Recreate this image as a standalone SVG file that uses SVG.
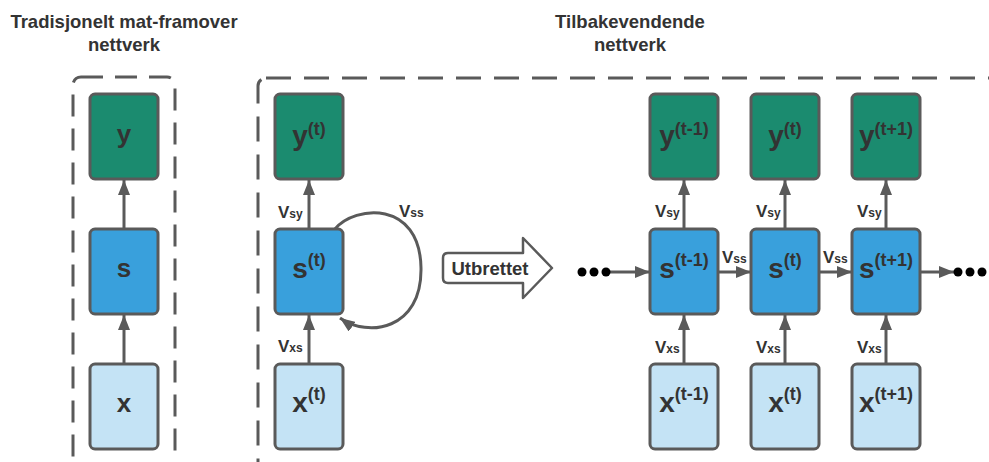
<svg xmlns="http://www.w3.org/2000/svg" width="989" height="462" viewBox="0 0 989 462">
<defs>
<marker id="ah" markerUnits="userSpaceOnUse" markerWidth="15" markerHeight="12" refX="15" refY="6" orient="auto">
<path d="M0,0 L15,6 L0,12 z" fill="#5a5a5a"/>
</marker>
<style>
.title{font-family:"Liberation Sans",Arial,sans-serif;font-weight:bold;font-size:18.5px;fill:#333;text-anchor:middle}
.box{stroke:#5a5a5a;stroke-width:3}
.yb{fill:#1b8b6f}
.sb{fill:#39a0dc}
.xb{fill:#c4e3f5}
.lbl{font-family:"Liberation Sans",Arial,sans-serif;font-weight:bold;fill:#333;text-anchor:middle}
.el{font-family:"Liberation Sans",Arial,sans-serif;font-weight:bold;font-size:17px;fill:#333}
.el tspan.sub{font-size:12px}
.dash{fill:none;stroke:#5a5a5a;stroke-width:3}
.conn{fill:none;stroke:#5a5a5a;stroke-width:3}
.dot{fill:#000}
</style>
</defs>
<rect width="989" height="462" fill="#fff"/>

<text class="title" x="124" y="28">Tradisjonelt mat-framover</text>
<text class="title" x="124" y="51">nettverk</text>
<text class="title" x="630" y="28">Tilbakevendende</text>
<text class="title" x="630" y="51">nettverk</text>

<rect class="dash" x="73" y="77" width="102" height="420" rx="8" stroke-dasharray="22 12"/>
<rect class="dash" x="258" y="78" width="780" height="420" rx="8" stroke-dasharray="25 13"/>

<g id="connectors">
<line class="conn" x1="124" y1="229" x2="124" y2="180" marker-end="url(#ah)"/>
<line class="conn" x1="124" y1="364" x2="124" y2="315" marker-end="url(#ah)"/>
<line class="conn" x1="309" y1="229" x2="309" y2="180" marker-end="url(#ah)"/>
<line class="conn" x1="309" y1="364" x2="309" y2="315" marker-end="url(#ah)"/>
<path class="conn" d="M335,229 C355,205 420,200 421,268 C422,330 368,338 340,318" marker-end="url(#ah)"/>
<line class="conn" x1="684" y1="229" x2="684" y2="180" marker-end="url(#ah)"/>
<line class="conn" x1="785" y1="229" x2="785" y2="180" marker-end="url(#ah)"/>
<line class="conn" x1="886" y1="229" x2="886" y2="180" marker-end="url(#ah)"/>
<line class="conn" x1="684" y1="364" x2="684" y2="315" marker-end="url(#ah)"/>
<line class="conn" x1="785" y1="364" x2="785" y2="315" marker-end="url(#ah)"/>
<line class="conn" x1="886" y1="364" x2="886" y2="315" marker-end="url(#ah)"/>
<line class="conn" x1="606" y1="272" x2="650" y2="272" marker-end="url(#ah)"/>
<line class="conn" x1="718" y1="272" x2="751" y2="272" marker-end="url(#ah)"/>
<line class="conn" x1="819" y1="272" x2="852" y2="272" marker-end="url(#ah)"/>
<line class="conn" x1="919" y1="272" x2="954" y2="272" marker-end="url(#ah)"/>
<circle class="dot" cx="582" cy="272" r="4.5"/>
<circle class="dot" cx="594" cy="272" r="4.5"/>
<circle class="dot" cx="606" cy="272" r="4.5"/>
<circle class="dot" cx="958" cy="272" r="4.5"/>
<circle class="dot" cx="970" cy="272" r="4.5"/>
<circle class="dot" cx="982" cy="272" r="4.5"/>
<text class="el" x="278" y="218">V<tspan class="sub">sy</tspan></text>
<text class="el" x="278" y="352">V<tspan class="sub">xs</tspan></text>
<text class="el" x="399" y="217">V<tspan class="sub">ss</tspan></text>
<text class="el" x="655" y="217">V<tspan class="sub">sy</tspan></text>
<text class="el" x="756" y="217">V<tspan class="sub">sy</tspan></text>
<text class="el" x="857" y="217">V<tspan class="sub">sy</tspan></text>
<text class="el" x="655" y="353">V<tspan class="sub">xs</tspan></text>
<text class="el" x="756" y="353">V<tspan class="sub">xs</tspan></text>
<text class="el" x="857" y="353">V<tspan class="sub">xs</tspan></text>
<text class="el" x="722" y="263">V<tspan class="sub">ss</tspan></text>
<text class="el" x="823" y="263">V<tspan class="sub">ss</tspan></text>
</g>

<g id="ff-y"><rect class="box yb" x="90" y="94" width="68" height="85" rx="5"/><text class="lbl" x="124" y="143" font-size="26">y</text></g>
<g id="ff-s"><rect class="box sb" x="90" y="229" width="68" height="85" rx="5"/><text class="lbl" x="124" y="277" font-size="26">s</text></g>
<g id="ff-x"><rect class="box xb" x="90" y="364" width="68" height="85" rx="5"/><text class="lbl" x="124" y="412" font-size="26">x</text></g>

<g id="rnn-y"><rect class="box yb" x="275" y="94" width="68" height="85" rx="5"/><text class="lbl" x="309" y="145" font-size="28">y<tspan font-size="18" dy="-10">(t)</tspan></text></g>
<g id="rnn-s"><rect class="box sb" x="275" y="229" width="68" height="85" rx="5"/><text class="lbl" x="309" y="278" font-size="28">s<tspan font-size="18" dy="-12">(t)</tspan></text></g>
<g id="rnn-x"><rect class="box xb" x="275" y="364" width="68" height="85" rx="5"/><text class="lbl" x="309" y="412" font-size="28">x<tspan font-size="18" dy="-12">(t)</tspan></text></g>

<g id="unfold">
<path d="M448,253 L523,253 L523,238 L552,268 L523,298 L523,283 L448,283 Q443,283 443,278 L443,258 Q443,253 448,253 Z" fill="#fff" stroke="#5a5a5a" stroke-width="2.5" stroke-linejoin="round"/>
<text class="title" x="490" y="275" font-size="19">Utbrettet</text>
</g>

<g id="y-tm1"><rect class="box yb" x="650" y="94" width="68" height="85" rx="5"/><text class="lbl" x="684" y="145" font-size="28">y<tspan font-size="18" dy="-10">(t-1)</tspan></text></g>
<g id="y-t"><rect class="box yb" x="751" y="94" width="68" height="85" rx="5"/><text class="lbl" x="785" y="145" font-size="28">y<tspan font-size="18" dy="-10">(t)</tspan></text></g>
<g id="y-tp1"><rect class="box yb" x="852" y="94" width="68" height="85" rx="5"/><text class="lbl" x="886" y="145" font-size="28">y<tspan font-size="18" dy="-10">(t+1)</tspan></text></g>

<g id="s-tm1"><rect class="box sb" x="650" y="229" width="68" height="85" rx="5"/><text class="lbl" x="684" y="278" font-size="28">s<tspan font-size="18" dy="-12">(t-1)</tspan></text></g>
<g id="s-t"><rect class="box sb" x="751" y="229" width="68" height="85" rx="5"/><text class="lbl" x="785" y="278" font-size="28">s<tspan font-size="18" dy="-12">(t)</tspan></text></g>
<g id="s-tp1"><rect class="box sb" x="852" y="229" width="68" height="85" rx="5"/><text class="lbl" x="886" y="278" font-size="28">s<tspan font-size="18" dy="-12">(t+1)</tspan></text></g>

<g id="x-tm1"><rect class="box xb" x="650" y="364" width="68" height="85" rx="5"/><text class="lbl" x="684" y="412" font-size="28">x<tspan font-size="18" dy="-12">(t-1)</tspan></text></g>
<g id="x-t"><rect class="box xb" x="751" y="364" width="68" height="85" rx="5"/><text class="lbl" x="785" y="412" font-size="28">x<tspan font-size="18" dy="-12">(t)</tspan></text></g>
<g id="x-tp1"><rect class="box xb" x="852" y="364" width="68" height="85" rx="5"/><text class="lbl" x="886" y="412" font-size="28">x<tspan font-size="18" dy="-12">(t+1)</tspan></text></g>
</svg>
